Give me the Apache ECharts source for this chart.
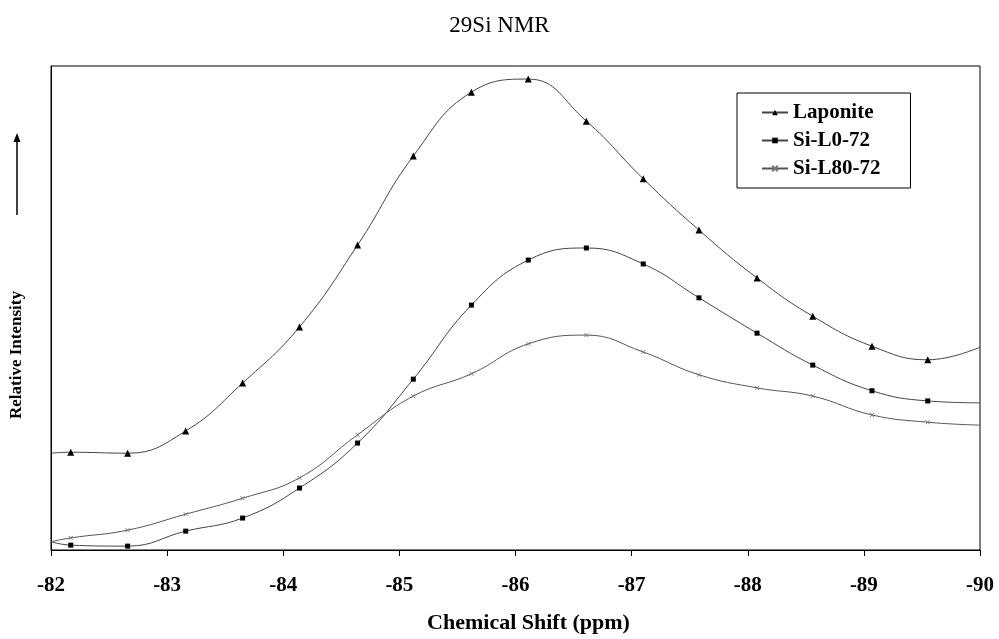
<!DOCTYPE html>
<html>
<head>
<meta charset="utf-8">
<script src="https://cdn.jsdelivr.net/npm/echarts@6/dist/echarts.min.js"></script>
<style>
  html, body { margin: 0; padding: 0; background: #fff; }
  #chart { width: 999px; height: 639px; }
</style>
</head>
<body>
<div id="chart"></div>
<script>
// chemical shift (ppm); first and last points are the curve ends (no marker)
const shift = [-82, -82.17, -82.66, -83.16, -83.65, -84.14, -84.64, -85.12, -85.62,
  -86.11, -86.61, -87.10, -87.58, -88.08, -88.56, -89.07, -89.55, -90];
const laponite = [20.0, 20.2, 20.0, 24.6, 34.5, 46.1, 63.0, 81.4, 94.6,
  97.3, 88.6, 76.7, 66.1, 56.2, 48.3, 42.1, 39.3, 41.9];
const siL0 = [1.7, 1.0, 0.8, 3.9, 6.6, 12.8, 22.1, 35.3, 50.6,
  59.9, 62.4, 59.1, 52.1, 44.8, 38.2, 32.9, 30.8, 30.4];
const siL80 = [1.7, 2.5, 4.1, 7.4, 10.7, 14.9, 23.8, 31.8, 36.4,
  42.6, 44.4, 40.9, 36.2, 33.5, 31.8, 27.9, 26.4, 25.8];
const seriesNames = ['Laponite', 'Si-L0-72', 'Si-L80-72'];

const serif = '"Liberation Serif", "DejaVu Serif", serif';
const last = shift.length - 1;
// end points only carry the line to the frame, no marker
const pairs = arr => shift.map((x, i) =>
  (i === 0 || i === last) ? { value: [x, arr[i]], symbol: 'none' } : [x, arr[i]]);

function mkSeries(name, arr, shape, size, lineColor, markColor, border) {
  return {
    name: name,
    type: 'line',
    data: pairs(arr),
    smooth: 0.45,
    symbol: shape,
    symbolSize: size,
    showSymbol: true,
    lineStyle: { color: lineColor, width: 1 },
    itemStyle: { color: markColor, borderColor: markColor, borderWidth: border },
    emphasis: { disabled: true },
    animation: false
  };
}

const myChart = echarts.init(document.getElementById('chart'));
myChart.setOption({
  animation: false,
  title: {
    text: '29Si NMR',
    left: 'center',
    top: 9,
    textStyle: { fontFamily: serif, fontSize: 23, fontWeight: 'normal', color: '#000' }
  },
  legend: {
    data: seriesNames,
    orient: 'vertical',
    left: 737,
    top: 93,
    padding: [9, 30, 9, 24],
    itemGap: 7,
    itemWidth: 26,
    itemHeight: 7,
    borderColor: '#000',
    borderWidth: 1,
    backgroundColor: '#fff',
    textStyle: { fontFamily: serif, fontSize: 21, fontWeight: 'bold', color: '#000' }
  },
  grid: {
    left: 51, right: 19, top: 66, bottom: 89,
    outerBoundsMode: 'none',
    show: true, borderColor: '#000', borderWidth: 1
  },
  xAxis: {
    type: 'value',
    min: -90, max: -82, interval: 1,
    inverse: true,
    name: 'Chemical Shift (ppm)',
    nameLocation: 'middle',
    nameGap: 62,
    nameTextStyle: { fontFamily: serif, fontSize: 22, fontWeight: 'bold', color: '#000', padding: [0, 0, 0, 26] },
    axisLine: { lineStyle: { color: '#000', width: 1 } },
    axisTick: { inside: false, length: 6, lineStyle: { color: '#000' } },
    axisLabel: { fontFamily: serif, fontSize: 21, fontWeight: 'bold', color: '#000', margin: 25 },
    splitLine: { show: false }
  },
  yAxis: {
    type: 'value',
    min: 0, max: 100,
    axisLine: { show: true, lineStyle: { color: '#000' } },
    axisTick: { show: false },
    axisLabel: { show: false },
    splitLine: { show: false }
  },
  graphic: [
    {
      type: 'text',
      x: 17, y: 355,
      rotation: Math.PI / 2,
      style: {
        text: 'Relative Intensity',
        fontFamily: serif, fontSize: 17, fontWeight: 'bold', fill: '#000',
        align: 'center', verticalAlign: 'middle'
      }
    },
    {
      type: 'line',
      shape: { x1: 17, y1: 215, x2: 17, y2: 140 },
      style: { stroke: '#000', lineWidth: 1.5 }
    },
    {
      type: 'polygon',
      shape: { points: [[17, 133], [13.5, 142], [20.5, 142]] },
      style: { fill: '#000' }
    }
  ],
  series: [
    mkSeries('Laponite', laponite, 'triangle', 7, '#444', '#000', 0),
    mkSeries('Si-L0-72', siL0, 'rect', 5, '#444', '#000', 0),
    mkSeries('Si-L80-72', siL80, 'path://M0,0L10,10M10,0L0,10', 4, '#555', '#777', 1)
  ]
});
</script>
</body>
</html>
